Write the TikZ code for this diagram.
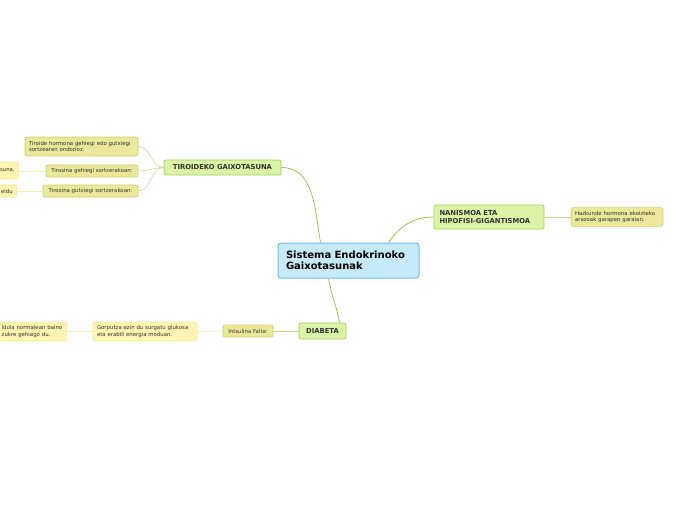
\documentclass[tikz,border=0pt]{standalone}
\usepackage{fontspec}
\setmainfont{DejaVu Sans}
\definecolor{cenf}{HTML}{C6EAFA}
\definecolor{cenb}{HTML}{6EBFE6}
\definecolor{topf}{HTML}{DAF3A4}
\definecolor{topb}{HTML}{A3D15A}
\definecolor{subf}{HTML}{EBE79B}
\definecolor{subb}{HTML}{D3CE6E}
\definecolor{leaff}{HTML}{FFF4B0}
\definecolor{leafb}{HTML}{F8E89C}
\definecolor{mainln}{HTML}{9DC94A}
\definecolor{subln}{HTML}{D6D392}
\definecolor{leafln}{HTML}{FAEDB0}
\definecolor{txt}{HTML}{333333}
\tikzset{
    central/.style={draw=cenb, fill=cenf, rounded corners=3pt, line width=1pt, align=left, text=black,
        font=\fontsize{10}{11.5}\selectfont\bfseries, minimum width=141pt, minimum height=35pt,
        text width=125pt, inner xsep=8pt},
    topic/.style={draw=topb, fill=topf, rounded corners=2pt, line width=0.8pt, align=left, text=txt,
        font=\fontsize{6.8}{8.5}\selectfont\bfseries, inner xsep=5pt},
    sub/.style={draw=subb, fill=subf, rounded corners=2pt, line width=0.6pt, align=left, text=txt,
        font=\fontsize{5.4}{6.8}\selectfont, inner xsep=4pt},
    leaf/.style={draw=leafb, fill=leaff, rounded corners=2pt, line width=0.6pt, align=left, text=txt,
        font=\fontsize{5.4}{6.8}\selectfont, inner xsep=4pt},
    mainlink/.style={draw=mainln, line width=0.8pt},
    sublink/.style={draw=subln, line width=0.6pt},
    leaflink/.style={draw=leafln, line width=0.8pt}
}

\begin{document}
\begin{tikzpicture}[x=1pt, y=-1pt]
\useasboundingbox (0,0) rectangle (696,520);

\node[central] (cen) at (348.5,260.5) {Sistema Endokrinoko\\Gaixotasunak};

\node[topic, minimum width=117pt, minimum height=15pt] (tiro) at (222.5,167.5) {TIROIDEKO GAIXOTASUNA};
\node[topic, minimum width=110pt, minimum height=24pt, text width=99pt] (nan) at (489,217) {NANISMOA ETA\\HIPOFISI-GIGANTISMOA};
\node[topic, minimum width=47pt, minimum height=16pt] (diab) at (322.5,331) {DIABETA};

\node[sub, minimum width=113pt, minimum height=19pt, text width=105pt] (tiroide) at (81.5,146.5) {Tiroide hormona gehiegi edo gutxiegi\\sortzearen ondorioz.};
\node[sub, minimum width=92pt, minimum height=12pt] (tirosina) at (92,171) {Tirosina gehiegi sortzerakoan:};
\node[sub, minimum width=95pt, minimum height=12pt] (tiroxina) at (90.5,191) {Tiroxina gutxiegi sortzerakoan:};
\node[sub, minimum width=92pt, minimum height=18pt, text width=84pt] (hazk) at (617,217) {Hazkunde hormona ekoizteko\\arazoak garapen garaian.};
\node[sub, minimum width=50pt, minimum height=12pt] (ints) at (248,331) {Intsulina Falta:};

\node[leaf, anchor=east, minimum height=17pt] (suna) at (19,170.5) {suna,};
\node[leaf, anchor=east, minimum height=12pt] (eldu) at (17,191) {eldu};
\node[leaf, minimum width=104pt, minimum height=19pt, text width=96pt] (gorp) at (145,331.5) {Gorputza ezin du surgatu glukosa\\eta erabili energia moduan.};
\node[leaf, anchor=east, minimum height=19pt, text width=62pt, inner xsep=3pt] (odol) at (67,331.5) {ldola normalean baino\\zukre gehiago du.};

\draw[mainlink] ([xshift=-28pt]cen.north) to[out=100, in=0] (tiro.east);
\draw[mainlink] ([xshift=40pt]cen.north) to[out=55, in=180] (nan.west);
\draw[mainlink] ([xshift=-20pt]cen.south) to[out=-80, in=100] ([xshift=17pt]diab.north);

\draw[sublink] (tiro.west) to[out=180, in=0] (tiroide.east);
\draw[sublink] (tiro.west) to[out=180, in=0] (tirosina.east);
\draw[sublink] (tiro.west) to[out=180, in=0] (tiroxina.east);
\draw[sublink] (nan.east) -- (hazk.west);
\draw[sublink] (diab.west) -- (ints.west -| ints.east);

\draw[leaflink] (tirosina.west) -- (suna.east |- tirosina.west);
\draw[leaflink] (tiroxina.west) -- (eldu.east);
\draw[leaflink] (ints.west) -- (gorp.east);
\draw[leaflink] (gorp.west) -- (odol.east);
\end{tikzpicture}
\end{document}
